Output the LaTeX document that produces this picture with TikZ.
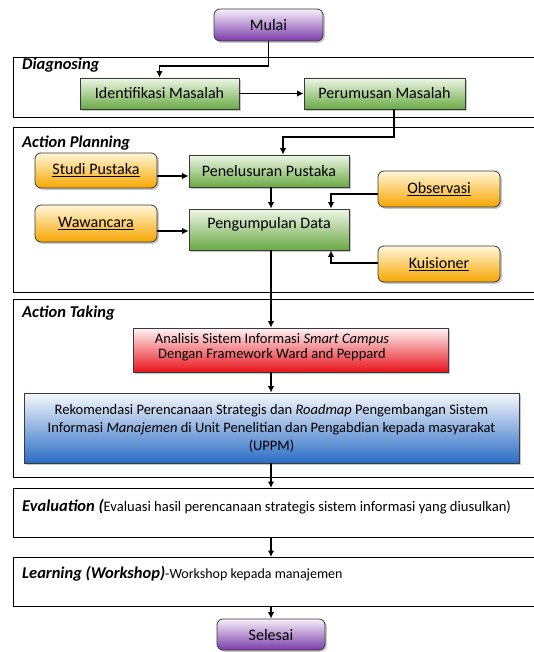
\documentclass[tikz,border=0pt]{standalone}
\usepackage{fontspec}
\setmainfont{Carlito}
\usetikzlibrary{arrows.meta,shadows,calc}
\definecolor{gtop}{HTML}{EEF6E6}
\definecolor{gbot}{HTML}{6AAA45}
\definecolor{otop}{HTML}{FFF6D8}
\definecolor{obot}{HTML}{F7A600}
\definecolor{ptop}{HTML}{F6F0FA}
\definecolor{pbot}{HTML}{7A3AA8}
\definecolor{rtop}{HTML}{FFF4F4}
\definecolor{rbot}{HTML}{E8141C}
\definecolor{btop}{HTML}{F6F8FC}
\definecolor{bbot}{HTML}{2A6CC4}
\definecolor{edge}{HTML}{3A3A3A}
\tikzset{
  shad/.style={drop shadow={shadow xshift=1.8pt,shadow yshift=-1.8pt,opacity=0.45,fill=gray}},
  boxbase/.style={draw=edge,line width=0.8pt,inner sep=0pt,align=center,shad,font=\fontsize{16}{19}\selectfont},
  greenbox/.style={boxbase,top color=gtop,bottom color=gbot},
  orangebox/.style={boxbase,rounded corners=6pt,top color=otop,bottom color=obot},
  purplebox/.style={boxbase,rounded corners=6pt,top color=ptop,bottom color=pbot},
  redbox/.style={boxbase,top color=rtop,bottom color=rbot},
  redtext/.style={inner sep=0pt,align=center,font=\fontsize{14.5}{15}\selectfont},
  bluebox/.style={boxbase,top color=btop,bottom color=bbot,font=\fontsize{14.5}{18}\selectfont},
  frame/.style={draw=black,line width=0.9pt,anchor=north west,minimum width=540pt,inner sep=0pt},
  phase/.style={anchor=west,inner sep=0pt,font=\fontsize{16.5}{19}\selectfont\bfseries\itshape},
  arr/.style={line width=1.4pt,-{Latex[length=6.5pt,width=6.5pt]}},
}
\begin{document}
\begin{tikzpicture}[x=1pt,y=-1pt]
\useasboundingbox (0,0) rectangle (534,652);
\clip (0,0) rectangle (534,652);
% frames
\node[frame,minimum height=60pt] (fdiag) at (13,57) {};
\node[frame,minimum height=165pt] (fplan) at (13,127) {};
\node[frame,minimum height=178pt] (ftake) at (13,299) {};
\node[frame,minimum height=49pt] (feval) at (13,488) {};
\node[frame,minimum height=49pt] (flearn) at (13,557) {};
% phase labels
\node[phase] (ldiag) at (22,65) {Diagnosing};
\node[phase] (lplan) at (22,143) {Action Planning};
\node[phase] (ltake) at (22,313) {Action Taking};
\node[anchor=west,inner sep=0pt] (leval) at (22,507) {{\fontsize{16.5}{19}\selectfont\bfseries\itshape Evaluation (}{\fontsize{14.6}{18}\selectfont Evaluasi hasil perencanaan strategis sistem informasi yang diusulkan)}};
\node[anchor=west,inner sep=0pt] (llearn) at (22,574) {{\fontsize{16.5}{19}\selectfont\bfseries\itshape Learning (Workshop)}{\fontsize{14}{18}\selectfont -Workshop kepada manajemen}};
% boxes
\node[purplebox,minimum width=109pt,minimum height=32pt] (mulai) at (268.5,25) {Mulai};
\node[greenbox,minimum width=159pt,minimum height=31pt] (ident) at (159.5,93.5) {Identifikasi Masalah};
\node[greenbox,minimum width=161pt,minimum height=31pt] (perum) at (384.5,93.5) {Perumusan Masalah};
\node[orangebox,minimum width=122pt,minimum height=35pt] (studi) at (96,170.5) {\underline{Studi Pustaka}};
\node[greenbox,minimum width=160pt,minimum height=32pt] (penel) at (269,171) {Penelusuran Pustaka};
\node[orangebox,minimum width=122pt,minimum height=36pt] (obs) at (439,189) {\underline{Observasi}};
\node[orangebox,minimum width=122pt,minimum height=37pt] (waw) at (96,223.5) {\underline{Wawancara}};
\node[greenbox,minimum width=160pt,minimum height=41pt] (pengum) at (269,229.5) {\raisebox{5pt}[\height][\depth]{Pengumpulan Data}};
\node[orangebox,minimum width=122pt,minimum height=36pt] (kuis) at (439,264) {\underline{Kuisioner}};
\node[redbox,minimum width=315pt,minimum height=44pt] (anal) at (290.5,350) {};
\node[redtext] (analtext) at (272,347) {Analisis Sistem Informasi \textit{Smart Campus}\\Dengan Framework Ward and Peppard};
\node[bluebox,minimum width=495pt,minimum height=70pt] (rekom) at (271.5,428) {Rekomendasi Perencanaan Strategis dan \textit{Roadmap} Pengembangan Sistem\\Informasi \textit{Manajemen} di Unit Penelitian dan Pengabdian kepada masyarakat\\(UPPM)};
\node[purplebox,minimum width=108pt,minimum height=31pt] (selesai) at (271,634.5) {Selesai};
% junction coordinates
\coordinate (j1) at (159.5,66);
\coordinate (j2) at (394,137);
\coordinate (j3) at (283,137);
\coordinate (j4) at (331,194);
\coordinate (j5) at (331,263);
% connectors
\draw[arr] (mulai.south) |- (j1) -- (ident.north);
\draw[arr] (ident.east) -- (perum.west);
\draw[arr] (perum.south -| j2) -- (j2) -- (j3) -- (penel.north -| j3);
\draw[arr] (studi.east |- 0,176) -- (penel.west |- 0,176);
\draw[arr] (penel.south -| 271,0) -- (pengum.north -| 271,0);
\draw[arr] (waw.east |- 0,231) -- (pengum.west |- 0,231);
\draw[arr] (obs.west |- j4) -- (j4) -- (pengum.north -| j4);
\draw[arr] (kuis.west |- j5) -- (j5) -- (pengum.south -| j5);
\draw[arr] (pengum.south -| 271,0) -- (anal.north -| 271,0);
\draw[arr] (anal.south -| 271,0) -- (rekom.north -| 271,0);
\draw[arr] (rekom.south -| 271,0) -- (feval.north -| 271,0);
\draw[arr] (feval.south -| 271,0) -- (flearn.north -| 271,0);
\draw[arr] (flearn.south -| 271,0) -- (selesai.north -| 271,0);
\end{tikzpicture}
\end{document}
